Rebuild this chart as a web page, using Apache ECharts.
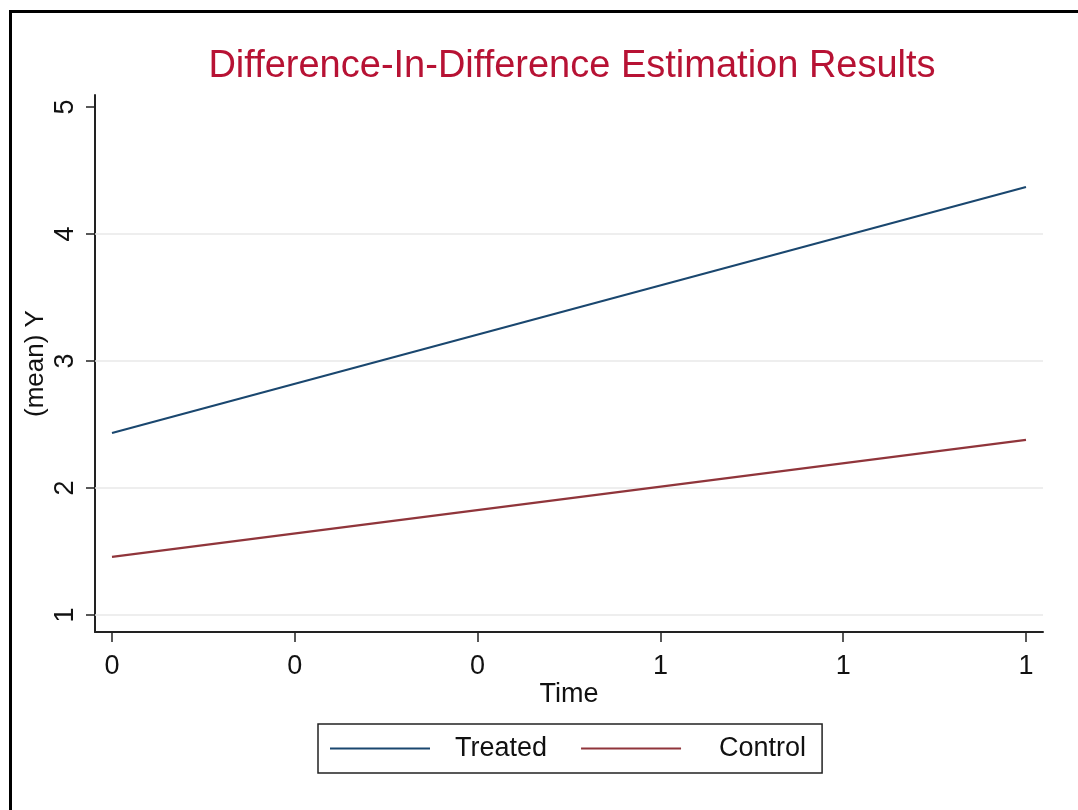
<!DOCTYPE html>
<html>
<head>
<meta charset="utf-8">
<script src="https://cdn.jsdelivr.net/npm/echarts@6/dist/echarts.min.js"></script>
<style>
  html, body { margin: 0; padding: 0; background: #fff; }
  #chart { width: 1078px; height: 810px; }
</style>
</head>
<body>
<div id="chart"></div>
<script>
// ---- data ----
const timeValues = [0, 1];
const treated = [2.433, 4.370];
const control = [1.457, 2.378];
const xTickValues = [0, 0.2, 0.4, 0.6, 0.8, 1];
const xTickLabels = ['0', '0', '0', '1', '1', '1'];
const yTickValues = [1, 2, 3, 4, 5];
const yGridValues = [1, 2, 3, 4];
const seriesNames = ['Treated', 'Control'];
const titleText = 'Difference-In-Difference Estimation Results';

const FONT = '"Liberation Sans", Arial, sans-serif';
const chart = echarts.init(document.getElementById('chart'), null, { renderer: 'canvas' });

const option = {
  animation: false,
  backgroundColor: '#ffffff',
  graphic: [{
    type: 'rect',
    shape: { x: 10.5, y: 11.5, width: 2000, height: 2000 },
    style: { fill: 'none', stroke: '#000', lineWidth: 3 },
    silent: true
  }],
  title: {
    text: titleText,
    left: 567,
    textAlign: 'center',
    top: 43,
    textStyle: { color: '#b71234', fontFamily: FONT, fontSize: 38, fontWeight: 'normal' }
  },
  grid: { left: 95, right: 35, top: 95, bottom: 178, containLabel: false },
  xAxis: {
    type: 'value',
    min: -0.0186,
    max: 1.0186,
    name: 'Time',
    nameLocation: 'middle',
    nameGap: 49,
    nameMoveOverlap: false,
    nameTextStyle: { color: '#111', fontFamily: FONT, fontSize: 27 },
    axisLine: { show: true, onZero: false, lineStyle: { color: '#222', width: 2 } },
    axisTick: { show: true, customValues: xTickValues, length: 10, lineStyle: { color: '#222', width: 1.5 } },
    axisLabel: {
      customValues: xTickValues,
      margin: 21,
      color: '#111',
      fontFamily: FONT,
      fontSize: 27,
      formatter: function (v) {
        const i = xTickValues.findIndex(t => Math.abs(t - v) < 1e-6);
        return i >= 0 ? xTickLabels[i] : '';
      }
    },
    splitLine: { show: false }
  },
  yAxis: {
    type: 'value',
    min: 0.866,
    max: 5.094,
    name: '(mean) Y',
    nameLocation: 'middle',
    nameRotate: 90,
    nameGap: 59,
    nameMoveOverlap: false,
    nameTextStyle: { color: '#111', fontFamily: FONT, fontSize: 26, verticalAlign: 'middle' },
    axisLine: { show: true, onZero: false, lineStyle: { color: '#222', width: 2 } },
    axisTick: { show: true, customValues: yTickValues, length: 9, lineStyle: { color: '#222', width: 1.5 } },
    axisLabel: {
      customValues: yTickValues,
      rotate: 90,
      margin: 16,
      color: '#111',
      fontFamily: FONT,
      fontSize: 27
    },
    splitLine: { show: false }
  },
  legend: {
    data: [
      { name: seriesNames[0] },
      { name: seriesNames[1], textStyle: { padding: [0, 0, 0, 33] } }
    ],
    left: 318,
    top: 724,
    orient: 'horizontal',
    icon: 'rect',
    itemWidth: 100,
    itemHeight: 2,
    itemGap: 34,
    padding: [11, 16, 11, 12],
    borderColor: '#222',
    borderWidth: 1.5,
    textStyle: { color: '#111', fontFamily: FONT, fontSize: 27, padding: [0, 0, 0, 20] }
  },
  series: [
    {
      name: seriesNames[0],
      type: 'line',
      data: timeValues.map((t, i) => [t, treated[i]]),
      symbol: 'none',
      lineStyle: { color: '#1a476f', width: 2.2 },
      itemStyle: { color: '#1a476f' },
      z: 3,
      markLine: {
        silent: true,
        symbol: 'none',
        label: { show: false },
        lineStyle: { color: '#e8e8e8', width: 1.5, type: 'solid' },
        data: yGridValues.map(v => ({ yAxis: v })),
        z: 1
      }
    },
    {
      name: seriesNames[1],
      type: 'line',
      data: timeValues.map((t, i) => [t, control[i]]),
      symbol: 'none',
      lineStyle: { color: '#90353b', width: 2.2 },
      itemStyle: { color: '#90353b' },
      z: 3
    }
  ]
};
chart.setOption(option);
</script>
</body>
</html>
